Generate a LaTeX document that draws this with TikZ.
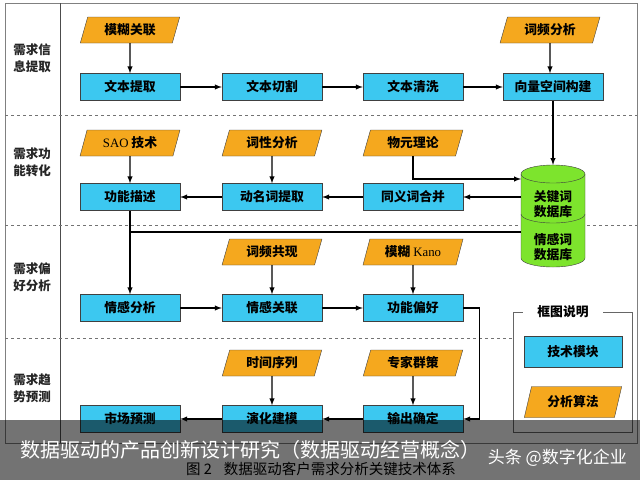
\documentclass[tikz,border=0pt]{standalone}
\usepackage{fontspec}
\setmainfont{Noto Sans CJK SC}
\newfontfamily\latinfont{Liberation Serif}
\usetikzlibrary{shapes.geometric}
\definecolor{modblue}{RGB}{60,200,240}
\definecolor{algorange}{RGB}{245,168,30}
\definecolor{dbgreen}{RGB}{125,228,45}

\begin{document}
\begin{tikzpicture}[x=1pt,y=-1pt,>=latex,
		module/.style={draw=black!75,fill=modblue,minimum width=100pt,minimum height=27pt,font=\fontsize{12.8}{14}\selectfont\bfseries},
		algo/.style={trapezium,trapezium left angle=72,trapezium right angle=108,trapezium stretches=true,draw=black!75,fill=algorange,minimum width=100pt,minimum height=26pt,inner sep=1pt,font=\fontsize{12.8}{14}\selectfont\bfseries},
		stage/.style={align=center,text=black!85,font=\fontsize{12.5}{17}\selectfont\bfseries},
		dbtext/.style={align=center,font=\fontsize{12.8}{15.5}\selectfont\bfseries},
		arr/.style={line width=1.4pt,->},
		link/.style={line width=1.4pt}]
		\useasboundingbox (0,0) rectangle (640,480);
		\fill[white] (0,0) rectangle (640,480);
		\draw[black!50,line width=0.8pt] (5,3) rectangle (637,443);
		\draw[black!70,line width=0.8pt] (60,3) -- (60,443);
		\draw[black!55,dashed,line width=0.7pt] (5,115) -- (637,115);
		\draw[black!55,dashed,line width=0.7pt] (5,225) -- (637,225);
		\draw[black!55,dashed,line width=0.7pt] (5,338) -- (513,338);
		\node[stage] (laba) at (32,58) {需求信\\息提取};
		\node[stage] (labb) at (32,162) {需求功\\能转化};
		\node[stage] (labc) at (32,277) {需求偏\\好分析};
		\node[stage] (labd) at (32,388) {需求趋\\势预测};
		\node[algo] (fuzzy) at (130,30) {模糊关联};
		\node[module] (extract) at (130,87) {文本提取};
		\node[module] (split) at (272,87) {文本切割};
		\node[module] (clean) at (413,87) {文本清洗};
		\node[module] (vsm) at (553,87) {向量空间构建};
		\node[algo] (freq) at (550,30) {词频分析};
		\node[algo] (sao) at (130,143) {{\latinfont\mdseries SAO} 技术};
		\node[algo] (pos) at (272,143) {词性分析};
		\node[algo] (matter) at (413,143) {物元理论};
		\node[module] (func) at (130,197) {功能描述};
		\node[module] (verb) at (272,197) {动名词提取};
		\node[module] (syn) at (413,197) {同义词合并};
		\node[algo] (cooc) at (272,252) {词频共现};
		\node[algo] (kano) at (413,252) {模糊 {\latinfont\mdseries Kano}};
		\node[module] (sent) at (130,308) {情感分析};
		\node[module] (emo) at (272,308) {情感关联};
		\node[module] (pref) at (413,308) {功能偏好};
		\node[algo] (series) at (272,363) {时间序列};
		\node[algo] (expert) at (413,363) {专家群策};
		\node[module] (market) at (130,419) {市场预测};
		\node[module] (evol) at (272,419) {演化建模};
		\node[module] (output) at (413,419) {输出确定};
		\draw[black!75,fill=dbgreen] (521,174) -- (521,258) arc[start angle=180,end angle=360,x radius=32pt,y radius=9pt] -- (585,174) arc[start angle=0,end angle=180,x radius=32pt,y radius=9pt] -- cycle;
		\draw[black!75] (521,174) arc[start angle=180,end angle=360,x radius=32pt,y radius=9pt];
		\draw[black!75] (521,214) arc[start angle=180,end angle=360,x radius=32pt,y radius=9pt];
		\node[dbtext] (kwdb) at (553,204) {关键词\\数据库};
		\node[dbtext] (emodb) at (553,247) {情感词\\数据库};
		\coordinate (dbtop) at (553,165);
		\coordinate (dbin) at (521,179);
		\coordinate (dbout) at (521,197);
		\coordinate (dbemo) at (521,232);
		\draw[arr] (fuzzy) -- (extract);
		\draw[arr] (extract) -- (split);
		\draw[arr] (split) -- (clean);
		\draw[arr] (clean) -- (vsm);
		\draw[arr] (freq) -- (freq |- vsm.north);
		\draw[arr] (vsm) -- (dbtop);
		\draw[arr] (matter) |- (dbin);
		\draw[arr] (dbout) -- (syn);
		\draw[arr] (syn) -- (verb);
		\draw[arr] (verb) -- (func);
		\draw[arr] (sao) -- (func);
		\draw[arr] (pos) -- (verb);
		\draw[arr] (func) -- (sent);
		\draw[link] (dbemo) -- (dbemo -| func);
		\draw[arr] (cooc) -- (emo);
		\draw[arr] (kano) -- (pref);
		\draw[arr] (sent) -- (emo);
		\draw[arr] (emo) -- (pref);
		\draw[arr] (pref.east) -- ++(16,0) |- (output.east);
		\draw[arr] (series) -- (evol);
		\draw[arr] (expert) -- (output);
		\draw[arr] (output) -- (evol);
		\draw[arr] (evol) -- (market);
		\draw[black!60,line width=0.8pt] (513,312) rectangle (632,432);
		\node[fill=white,minimum width=80pt,inner sep=1pt,font=\fontsize{12.8}{14}\selectfont\bfseries] (legtitle) at (563,312) {框图说明};
		\node[module,minimum width=98pt,minimum height=31pt] (legmod) at (573,352) {技术模块};
		\node[algo,minimum width=98pt,minimum height=31pt] (legalg) at (573,402) {分析算法};
		\node[font=\fontsize{14.5}{16}\selectfont] (caption) at (321,469) {图 2\hspace{12pt}数据驱动客户需求分析关键技术体系};
		\fill[black,opacity=0.55] (0,420) rectangle (640,480);
		\node[anchor=west,text=white,inner sep=0pt,font=\fontsize{20}{22}\selectfont] (title) at (20,450) {数据驱动的产品创新设计研究（数据驱动经营概念）};
		\node[anchor=east,text=white,inner sep=0pt,font=\fontsize{17}{20}\selectfont] (mark) at (627,458) {头条 @数字化企业};
	\end{tikzpicture}
\end{document}
